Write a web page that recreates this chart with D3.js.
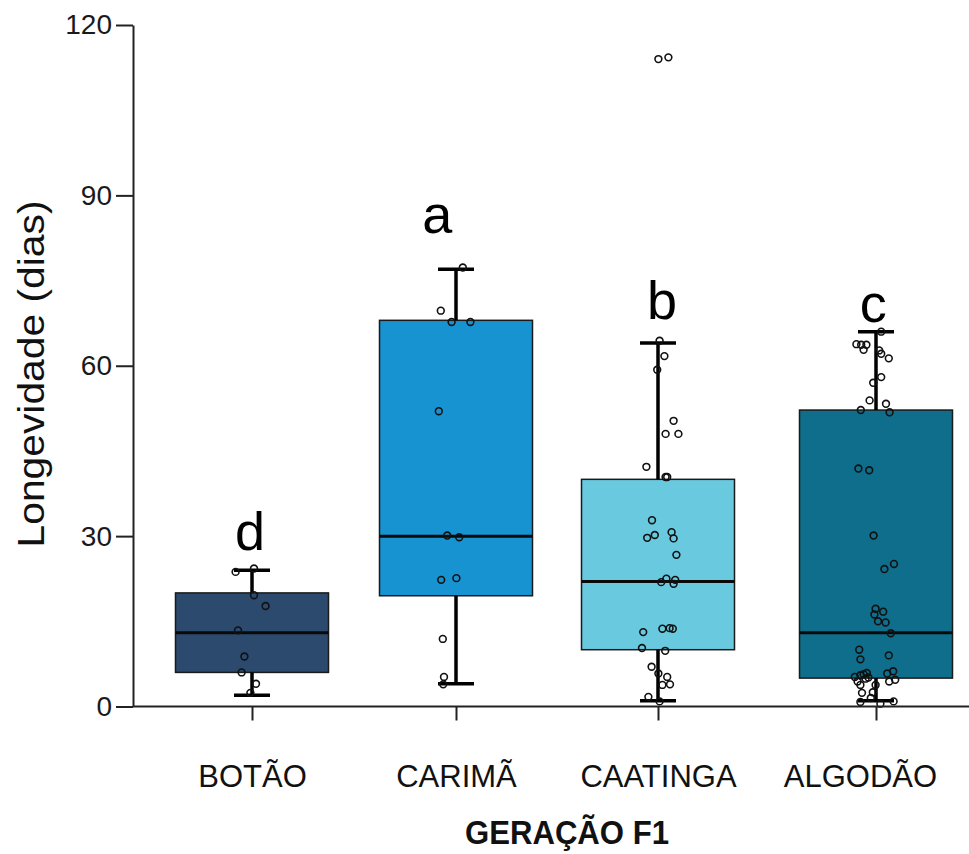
<!DOCTYPE html>
<html>
<head>
<meta charset="utf-8">
<script src="https://d3js.org/d3.v7.min.js"></script>
<style>
  body { margin: 0; background: #fff; }
  text { font-family: "Liberation Sans", Arial, sans-serif; }
</style>
</head>
<body>
<div id="chart"></div>
<script>
var categories = ['BOTÃO', 'CARIMÃ', 'CAATINGA', 'ALGODÃO'];
var letters = ['d', 'a', 'b', 'c'];
var letterAt = [27.6, 83.4, 68.2, 67.7];
var letterJitter = [-0.05, -0.47, 0.1, -0.07];
var colors = ['#2c4a6e', '#1793d1', '#69c9df', '#0e6e8b'];

var q1 = [6, 19.5, 10, 5];
var median = [13, 30, 22, 13];
var q3 = [20, 68, 40, 52.2];
var whiskLow = [2, 4, 1, 1];
var whiskHigh = [24, 77, 64, 66];

var yTicks = [0, 30, 60, 90, 120];

var pointsBotao = [23.7, 24.3, 19.6, 17.7, 13.4, 8.8, 6.0, 4.0, 2.4];
var jitterBotao = [-0.41, 0.05, 0.05, 0.34, -0.35, -0.19, -0.26, 0.10, -0.04];

var pointsCarima = [77.3, 69.7, 67.7, 67.7, 52.0, 30.1, 29.8, 22.3, 22.6, 11.9, 5.2, 3.9];
var jitterCarima = [0.17, -0.38, -0.11, 0.36, -0.43, -0.22, 0.08, -0.37, 0.01, -0.33, -0.30, -0.32];

var pointsCaatinga = [114.0, 114.3, 64.4, 61.7, 59.3, 50.3, 48.0, 48.0, 42.2, 40.4, 40.4, 32.8,
  29.7, 30.2, 30.7, 29.6, 26.7, 21.9, 22.5, 22.3, 21.6, 13.1, 13.7, 13.8, 13.7, 10.3, 9.8,
  7.0, 5.8, 5.2, 3.8, 3.9, 1.7, 0.9];
var jitterCaatinga = [0.01, 0.26, 0.04, 0.16, -0.02, 0.39, 0.19, 0.51, -0.29, 0.19, 0.23, -0.15,
  -0.27, -0.08, 0.34, 0.39, 0.46, 0.08, 0.21, 0.43, 0.39, -0.37, 0.11, 0.29, 0.37, -0.40, 0.18,
  -0.16, 0.01, 0.23, 0.11, 0.30, -0.24, 0.04];

var pointsAlgodao = [66.0, 63.8, 63.7, 63.7, 62.8, 62.7, 62.1, 61.3, 58.0, 57.0, 53.9, 53.3,
  52.2, 51.8, 41.9, 41.6, 30.1, 25.1, 24.2, 17.2, 16.7, 16.2, 15.0, 14.8, 12.9, 10.0, 9.0,
  8.3, 5.2, 4.4, 5.5, 5.7, 5.9, 5.1, 4.9, 3.8, 5.8, 6.2, 4.4, 4.7, 3.8, 2.4, 2.5, 0.8, 1.5,
  0.5, 0.9];
var jitterAlgodao = [0.13, -0.49, -0.37, -0.24, -0.31, 0.08, 0.13, 0.32, 0.13, -0.07, -0.16, 0.25,
  -0.38, 0.34, -0.44, -0.17, -0.06, 0.45, 0.21, -0.01, 0.18, -0.04, 0.05, 0.24, 0.37, -0.42, 0.32,
  -0.39, -0.53, -0.46, -0.39, -0.31, -0.23, -0.19, -0.26, -0.39, 0.28, 0.43, 0.33, 0.48, -0.01,
  -0.35, -0.08, -0.39, -0.13, 0.11, 0.44];

var groupPoints = [pointsBotao, pointsCarima, pointsCaatinga, pointsAlgodao];
var groupJitter = [jitterBotao, jitterCarima, jitterCaatinga, jitterAlgodao];

var width = 969, height = 854;
var axisX = 133, axisY = 706.5;
var boxW = 153, capW = 36;

var svg = d3.select('#chart').append('svg')
  .attr('width', width)
  .attr('height', height)
  .style('display', 'block');

var y = d3.scaleLinear().domain([0, 120]).range([axisY, 25]);
var x = d3.scaleOrdinal().domain(categories).range([252, 456, 658, 876]);
var jit = d3.scaleLinear().domain([-1, 1]).range([-40, 40]);

// boxes
var g = svg.selectAll('g.box')
  .data(categories)
  .enter().append('g')
  .attr('class', 'box');

g.append('rect')
  .attr('x', function(d) { return x(d) - boxW / 2; })
  .attr('y', function(d, i) { return y(q3[i]); })
  .attr('width', boxW)
  .attr('height', function(d, i) { return y(q1[i]) - y(q3[i]); })
  .attr('fill', function(d, i) { return colors[i]; })
  .attr('stroke', '#1a1a1a')
  .attr('stroke-width', 1.5);

g.append('line')
  .attr('x1', function(d) { return x(d) - boxW / 2; })
  .attr('x2', function(d) { return x(d) + boxW / 2; })
  .attr('y1', function(d, i) { return y(median[i]); })
  .attr('y2', function(d, i) { return y(median[i]); })
  .attr('stroke', '#0a0a0a')
  .attr('stroke-width', 3);

// whiskers
g.append('line')
  .attr('x1', x).attr('x2', x)
  .attr('y1', function(d, i) { return y(q3[i]); })
  .attr('y2', function(d, i) { return y(whiskHigh[i]); })
  .attr('stroke', '#000').attr('stroke-width', 3.5);
g.append('line')
  .attr('x1', x).attr('x2', x)
  .attr('y1', function(d, i) { return y(q1[i]); })
  .attr('y2', function(d, i) { return y(whiskLow[i]); })
  .attr('stroke', '#000').attr('stroke-width', 3.5);
g.append('line')
  .attr('x1', function(d) { return x(d) - capW / 2; })
  .attr('x2', function(d) { return x(d) + capW / 2; })
  .attr('y1', function(d, i) { return y(whiskHigh[i]); })
  .attr('y2', function(d, i) { return y(whiskHigh[i]); })
  .attr('stroke', '#000').attr('stroke-width', 3.5);
g.append('line')
  .attr('x1', function(d) { return x(d) - capW / 2; })
  .attr('x2', function(d) { return x(d) + capW / 2; })
  .attr('y1', function(d, i) { return y(whiskLow[i]); })
  .attr('y2', function(d, i) { return y(whiskLow[i]); })
  .attr('stroke', '#000').attr('stroke-width', 3.5);

// points
g.each(function(d, i) {
  d3.select(this).selectAll('circle')
    .data(groupPoints[i])
    .enter().append('circle')
    .attr('cx', function(v, j) { return x(d) + jit(groupJitter[i][j]); })
    .attr('cy', function(v) { return y(v); })
    .attr('r', 3.4)
    .attr('fill', 'none')
    .attr('stroke', '#111')
    .attr('stroke-width', 1.6);
});

// significance letters
g.append('text')
  .attr('x', function(d, i) { return x(d) + jit(letterJitter[i]); })
  .attr('y', function(d, i) { return y(letterAt[i]); })
  .attr('text-anchor', 'middle')
  .style('font-size', '54px')
  .style('fill', '#000')
  .text(function(d, i) { return letters[i]; });

// y axis
var yAxis = svg.append('g')
  .attr('transform', 'translate(' + axisX + ',0)')
  .call(d3.axisLeft(y).tickValues(yTicks).tickSize(17).tickPadding(4).tickSizeOuter(0));
yAxis.select('.domain').attr('stroke', '#222').attr('stroke-width', 2);
yAxis.selectAll('.tick line').attr('stroke', '#222').attr('stroke-width', 2);
yAxis.selectAll('.tick text')
  .style('font-size', '28px')
  .style('fill', '#1a1a1a')
  .style('font-family', '"Liberation Sans", Arial, sans-serif');

// x axis
var xAxis = svg.append('g')
  .attr('transform', 'translate(0,' + axisY + ')')
  .call(d3.axisBottom(x).tickSize(14).tickPadding(44).tickSizeOuter(0));
xAxis.select('.domain').attr('d', 'M' + axisX + ',0H' + width)
  .attr('stroke', '#222').attr('stroke-width', 2);
xAxis.selectAll('.tick line').attr('stroke', '#222').attr('stroke-width', 2);
xAxis.selectAll('.tick text')
  .style('font-size', '31px')
  .style('fill', '#111')
  .style('font-family', '"Liberation Sans", Arial, sans-serif');
// last label sits a bit left of its tick in the original
xAxis.selectAll('.tick text').filter(function(d) { return d == 'ALGODÃO'; })
  .attr('dx', -16);

// axis titles
svg.append('text')
  .attr('transform', 'translate(44,374) rotate(-90)')
  .attr('text-anchor', 'middle')
  .attr('textLength', 347)
  .attr('lengthAdjust', 'spacingAndGlyphs')
  .style('font-size', '36px')
  .style('fill', '#111')
  .text('Longevidade (dias)');

svg.append('text')
  .attr('x', 567)
  .attr('y', 844)
  .attr('text-anchor', 'middle')
  .attr('textLength', 204)
  .attr('lengthAdjust', 'spacingAndGlyphs')
  .style('font-size', '34px')
  .style('font-weight', 'bold')
  .style('fill', '#111')
  .text('GERAÇÃO F1');
</script>
</body>
</html>
